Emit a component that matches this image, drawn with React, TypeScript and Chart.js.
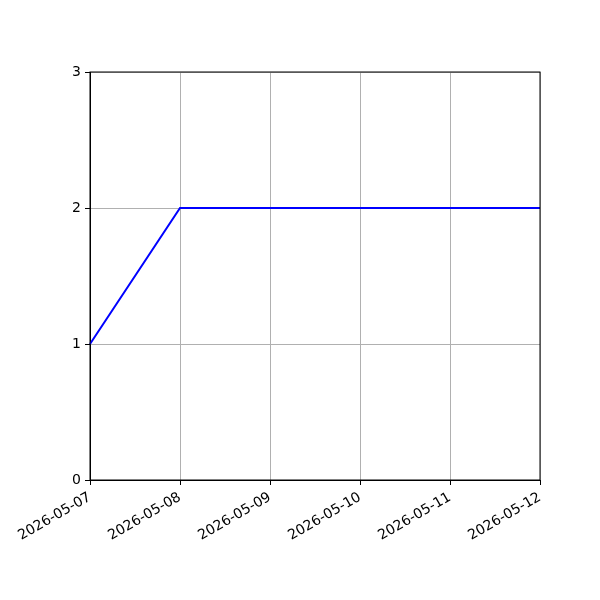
import React, { useEffect, useRef } from 'react';
import { Chart, registerables } from 'chart.js';

Chart.register(...registerables);

const dates = ['2026-05-07', '2026-05-08', '2026-05-09', '2026-05-10', '2026-05-11', '2026-05-12'];
const counts = [1, 2, 2, 2, 2, 2];
const yTicks = [0, 1, 2, 3];

const frame = {
  id: 'frame',
  afterDraw: (chart: Chart) => {
    const { ctx, chartArea: a } = chart;
    ctx.save();
    ctx.strokeStyle = '#000';
    ctx.lineWidth = 1;
    ctx.strokeRect(a.left, a.top, a.right - a.left, a.bottom - a.top);
    ctx.restore();
  },
};

const App: React.FC = () => {
  const canvasRef = useRef<HTMLCanvasElement>(null);

  useEffect(() => {
    const ctx = canvasRef.current?.getContext('2d');
    if (!ctx) return;
    const font = { family: 'DejaVu Sans', size: 14 };
    const chart = new Chart(ctx, {
      type: 'line',
      data: {
        labels: dates,
        datasets: [{
          data: counts,
          borderColor: '#0000ff',
          borderWidth: 2,
          pointRadius: 0,
          tension: 0,
          fill: false,
        }],
      },
      options: {
        animation: false,
        responsive: false,
        layout: { padding: { top: 72, right: 60, left: 0, bottom: 0 } },
        plugins: { legend: { display: false }, tooltip: { enabled: false } },
        scales: {
          x: {
            offset: false,
            afterFit: (s: any) => { s.height = 120; },
            grid: { color: '#b0b0b0', tickColor: '#000', tickLength: 5, drawTicks: true },
            border: { color: '#000' },
            ticks: { color: '#000', font, autoSkip: false, minRotation: 30, maxRotation: 30, padding: 4 },
          },
          y: {
            min: yTicks[0],
            max: yTicks[yTicks.length - 1],
            afterFit: (s: any) => { s.width = 90; },
            afterBuildTicks: (s: any) => { s.ticks = yTicks.map(v => ({ value: v })); },
            grid: { color: '#b0b0b0', tickColor: '#000', tickLength: 5 },
            border: { color: '#000' },
            ticks: { color: '#000', font, padding: 4 },
          },
        },
      },
      plugins: [frame],
    });
    return () => chart.destroy();
  }, []);

  return (
    <div style={{ position: 'fixed', left: 0, top: 0, width: 600, height: 600, background: '#fff' }}>
      <canvas ref={canvasRef} width={600} height={600} style={{ width: 600, height: 600 }}></canvas>
    </div>
  );
};

export default App;
